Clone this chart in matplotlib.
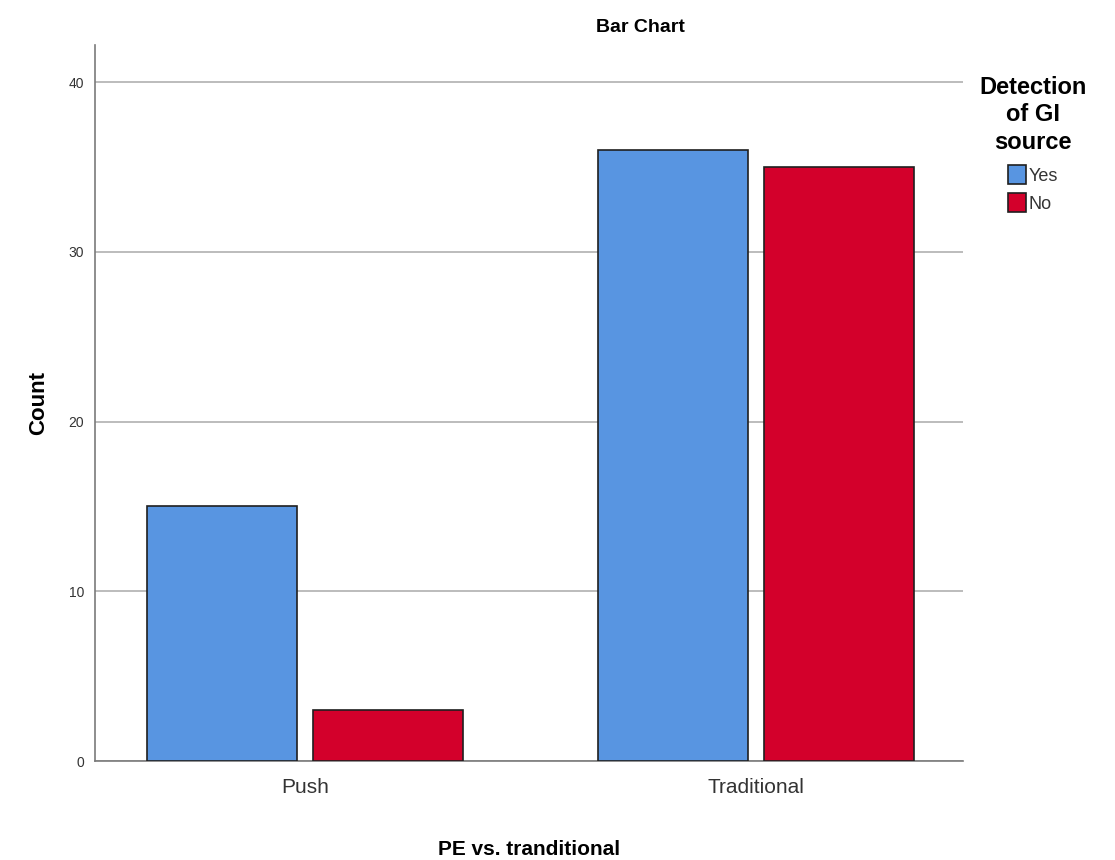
import numpy as np
import matplotlib
matplotlib.use('Agg')
import matplotlib.pyplot as plt

# --- data ---
categories = ['Push', 'Traditional']
series_names = ['Yes', 'No']
yes_counts = [15, 36]
no_counts = [3, 35]
y_ticks = [0, 10, 20, 30, 40]

COLORS = {'Yes': '#5895e1', 'No': '#d3002b'}
plt.rcParams['font.family'] = ['Liberation Sans Narrow', 'Liberation Sans', 'DejaVu Sans']

fig = plt.figure(figsize=(11.15, 8.6), dpi=100)
ax = fig.add_axes([0.0852, 0.1151, 0.7785, 0.8326])

x = np.arange(len(categories))
width = 0.333
gap = 0.036
offset = (width + gap) / 2

ax.bar(x - offset, yes_counts, width, color=COLORS['Yes'],
       edgecolor='#1f1f1f', linewidth=1.2, label=series_names[0], zorder=3)
ax.bar(x + offset, no_counts, width, color=COLORS['No'],
       edgecolor='#1f1f1f', linewidth=1.2, label=series_names[1], zorder=3)

ax.set_xlim(-0.466, 1.46)
ax.set_ylim(0, 42.2)
ax.set_yticks(y_ticks)
ax.set_xticks(x)
ax.set_xticklabels(categories, fontsize=15, color='#333333')
ax.tick_params(axis='y', length=0, labelsize=10, colors='#333333', pad=8)
ax.tick_params(axis='x', length=0, pad=12)

ax.yaxis.grid(True, color='#b0b0b0', linewidth=1.2, zorder=0)
ax.set_axisbelow(True)
for s in ['top', 'right']:
    ax.spines[s].set_visible(False)
for s in ['left', 'bottom']:
    ax.spines[s].set_color('#7a7a7a')
    ax.spines[s].set_linewidth(1.2)

ax.set_title('Bar Chart', fontsize=14, fontweight='bold', pad=9, x=0.628)
ax.set_ylabel('Count', fontsize=16, fontweight='bold', labelpad=14)
ax.set_xlabel('PE vs. tranditional', fontsize=15, fontweight='bold', labelpad=31)

leg = ax.legend(title='Detection\nof GI\nsource', loc='upper left',
                bbox_to_anchor=(1.0, 0.98), frameon=False, fontsize=13,
                title_fontproperties={'weight': 'bold', 'size': 17},
                handlelength=1.0, handleheight=1.3, handletextpad=0.1,
                labelspacing=0.45)
leg._legend_box.align = 'center'
leg._legend_box.sep = 8
leg.get_title().set_multialignment('center')
leg.get_title().set_linespacing(1.25)
for t in leg.get_texts():
    t.set_color('#333333')

fig.savefig('out.png', dpi=100)
